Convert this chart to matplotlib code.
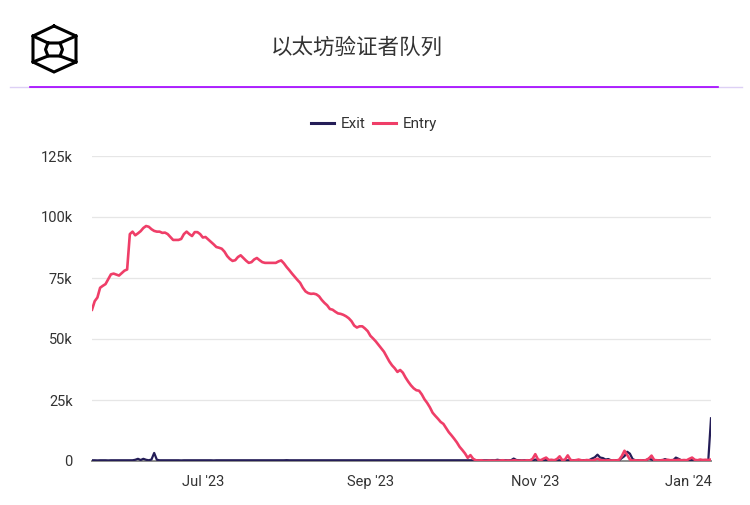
import matplotlib
matplotlib.use("Agg")
import matplotlib.pyplot as plt
import matplotlib.dates as mdates
import matplotlib.transforms as mtransforms
from matplotlib.lines import Line2D
import pandas as pd
import numpy as np

# ---------------- data ----------------
start_date = "2023-05-21"
title = "以太坊验证者队列"
series_names = ["Exit", "Entry"]
y_ticks = [0, 25000, 50000, 75000, 100000, 125000]
y_tick_labels = ["0", "25k", "50k", "75k", "100k", "125k"]
x_tick_dates = ["2023-07-01", "2023-09-01", "2023-11-01", "2024-01-01"]
x_tick_labels = ["Jul '23", "Sep '23", "Nov '23", "Jan '24"]

entry = [
    62000, 65500, 67000, 71000, 71800, 72500, 74500, 76500, 76800, 76400,
    76000, 77000, 78000, 78500, 93000, 94000, 92500, 93300, 94200, 95500,
    96300, 96000, 95000, 94300, 94000, 94000, 93500, 93600, 93000, 91800,
    90600, 90600, 90600, 91000, 93000, 94000, 93000, 92200, 93800, 93800,
    93000, 91600, 91800, 90800, 89800, 88800, 87700, 87400, 87000, 85800,
    84000, 82800, 82000, 82300, 83600, 84300, 83200, 82100, 81200, 81500,
    82600, 83200, 82300, 81500, 81200, 81200, 81200, 81200, 81200, 81800,
    82200, 81000, 79500, 78200, 76800, 75500, 74200, 73000, 71000, 69500,
    68800, 68500, 68600, 68300, 67500, 66000, 64800, 63800, 62300, 62000,
    61200, 60500, 60300, 59900, 59300, 58500, 57300, 55500, 54700, 55200,
    55200, 54300, 53200, 51300, 50200, 49000, 47600, 46200, 44800, 42800,
    40800, 39200, 38000, 36500, 37300, 36200, 34200, 32500, 31000, 29800,
    29000, 28800, 27300, 25300, 23800, 22000, 19800, 18500, 17300, 16000,
    15200, 13500, 11800, 10500, 9100, 7600, 5800, 4500, 3100, 1300,
    2400, 900, 300, 200, 300, 100, 100, 200, 100, 150,
    100, 200, 300, 100, 200, 100, 300, 200, 100, 200,
    100, 300, 200, 900, 2800, 600, 300, 900, 1400, 400,
    500, 300, 800, 1900, 300, 600, 2300, 500, 200, 300,
    600, 300, 200, 400, 300, 200, 500, 900, 400, 300,
    200, 300, 200, 300, 200, 500, 2000, 4200, 2500, 600,
    200, 300, 200, 300, 200, 400, 1000, 2200, 400, 300,
    200, 400, 300, 500, 300, 400, 300, 500, 300, 400,
    300, 900, 1400, 500, 300, 600, 400, 500, 400, 600,
]

exit_ = [
    300, 300, 250, 300, 300, 300, 250, 300, 300, 300,
    300, 300, 300, 300, 300, 300, 500, 900, 400, 900,
    500, 300, 600, 3300, 500, 300, 300, 300, 300, 300,
    300, 300, 300, 250, 300, 300, 300, 300, 300, 300,
    300, 300, 300, 300, 300, 250, 300, 300, 300, 300,
    300, 300, 300, 300, 300, 300, 300, 300, 300, 300,
    300, 300, 300, 300, 300, 300, 300, 300, 300, 300,
    300, 300, 350, 300, 300, 300, 300, 300, 300, 300,
    300, 300, 300, 300, 300, 300, 300, 300, 300, 300,
    300, 300, 300, 300, 300, 300, 300, 300, 300, 300,
    300, 300, 300, 300, 300, 300, 300, 300, 300, 300,
    300, 300, 300, 300, 300, 300, 300, 300, 300, 300,
    300, 300, 300, 300, 300, 300, 300, 300, 300, 300,
    300, 300, 300, 300, 300, 300, 300, 300, 300, 300,
    300, 300, 300, 250, 300, 300, 300, 300, 300, 300,
    500, 300, 300, 300, 300, 300, 1000, 400, 300, 300,
    300, 300, 300, 300, 600, 300, 300, 300, 400, 300,
    300, 300, 300, 300, 300, 300, 300, 300, 300, 400,
    300, 300, 300, 300, 400, 1000, 1500, 2600, 1400, 1200,
    600, 800, 300, 300, 300, 300, 1200, 2000, 3800, 3000,
    800, 300, 300, 300, 300, 300, 1000, 600, 300, 300,
    300, 300, 800, 300, 300, 300, 1400, 900, 300, 300,
    300, 300, 500, 300, 300, 300, 300, 300, 300, 17500,
]

# ---------------- styling ----------------
ENTRY_C = "#ef3e68"
EXIT_C = "#241d57"
TEXT_C = "#333333"
plt.rcParams["font.family"] = ["Roboto", "DejaVu Sans"]

W, H = 750, 505
fig = plt.figure(figsize=(W / 100, H / 100), dpi=100)
fig.patch.set_facecolor("white")

ax = fig.add_axes([92 / W, 1 - 461 / H, (711 - 92) / W, (461 - 156) / H])

d_entry = pd.date_range(start_date, periods=len(entry), freq="D")
d_exit = pd.date_range(start_date, periods=len(exit_), freq="D")

ax.plot(d_exit, exit_, color=EXIT_C, lw=1.6, zorder=3, solid_joinstyle="round")
ax.plot(d_entry, entry, color=ENTRY_C, lw=1.9, zorder=4, solid_joinstyle="round")

ax.set_xlim(d_entry[0], d_entry[-1])
ax.set_ylim(0, 125000)
ax.set_yticks(y_ticks)
ax.set_yticklabels(y_tick_labels)
ax.set_xticks(pd.to_datetime(x_tick_dates))
ax.set_xticklabels(x_tick_labels)

ax.grid(axis="y", color="#e6e6e6", lw=0.9)
ax.set_axisbelow(True)
for s in ["top", "right", "left"]:
    ax.spines[s].set_visible(False)
ax.spines["bottom"].set_color("#8c8c8c")
ax.spines["bottom"].set_linewidth(1.4)
ax.tick_params(axis="both", length=0, labelsize=10.5, colors=TEXT_C)
ax.tick_params(axis="y", pad=14)
ax.tick_params(axis="x", pad=10)

# shift last x label to fit inside plot right edge
labs = ax.get_xticklabels()
labs[-1].set_horizontalalignment("right")
labs[-1].set_transform(labs[-1].get_transform() +
                       mtransforms.ScaledTranslation(12 / 100, 0, fig.dpi_scale_trans))

# legend
handles = [Line2D([], [], color=EXIT_C, lw=2.2), Line2D([], [], color=ENTRY_C, lw=2.2)]
fig.legend(handles, series_names, loc="center", bbox_to_anchor=(374 / W, 1 - 124 / H),
           ncol=2, frameon=False, fontsize=11, handlelength=1.5, handletextpad=0.45,
           columnspacing=0.5, labelcolor=TEXT_C)

# title
fig.text(357 / W, 1 - 48 / H, title, ha="center", va="center", fontsize=15.5,
         color=TEXT_C, family=["Noto Sans CJK SC", "DejaVu Sans"], fontweight="light")

# header separator lines
fig.add_artist(Line2D([10 / W, 742 / W], [1 - 87.5 / H] * 2, color="#ddd0f5", lw=1.0))
fig.add_artist(Line2D([30 / W, 718 / W], [1 - 86.5 / H] * 2, color="#a200ff", lw=1.2))

# logo (hexagonal cube)
def P(x, y):
    return (x / W, 1 - y / H)

hexagon = [(54, 26), (76, 36), (76, 62), (54, 72), (33, 62), (33, 36), (54, 26)]
xs, ys = zip(*[P(*p) for p in hexagon])
fig.add_artist(Line2D(xs, ys, color="black", lw=2.2, solid_joinstyle="miter"))
inner = [(48, 43), (60, 43), (62.5, 49.5), (60, 56), (48, 56), (45.5, 49.5), (48, 43)]
xs, ys = zip(*[P(*p) for p in inner])
fig.add_artist(Line2D(xs, ys, color="black", lw=2.2))
for a, b in [((33, 36), (48, 43)), ((76, 36), (60, 43)),
             ((33, 62), (48, 56)), ((76, 62), (60, 56))]:
    xs, ys = zip(P(*a), P(*b))
    fig.add_artist(Line2D(xs, ys, color="black", lw=2.2))

fig.savefig("out.png", dpi=100, facecolor="white")
